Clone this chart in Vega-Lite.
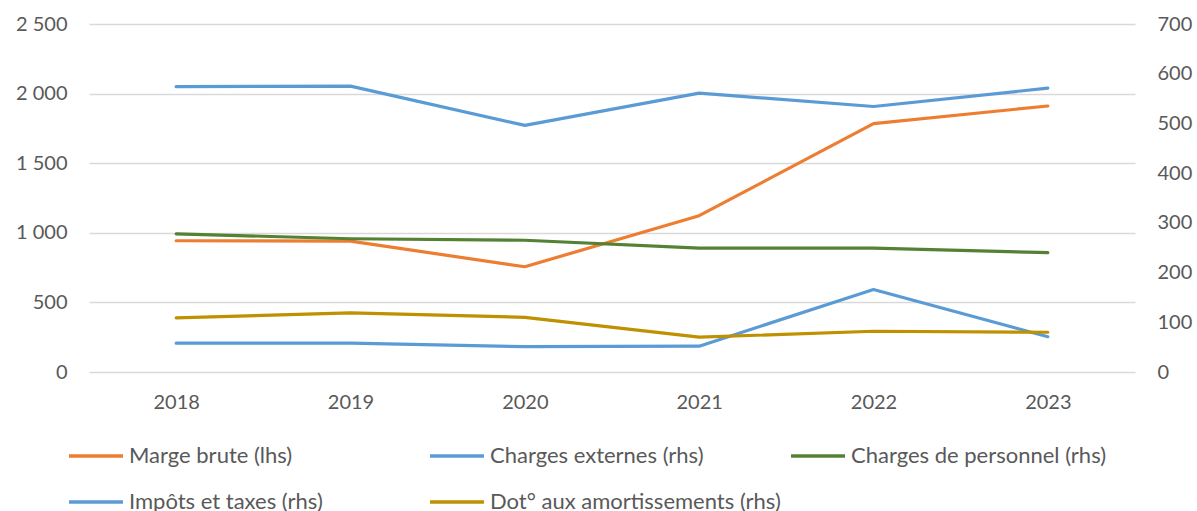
{
  "$schema": "https://vega.github.io/schema/vega-lite/v6.json",
  "autosize": {"type": "none"},
  "padding": {"left": 89, "top": 24, "right": 62, "bottom": 139},
  "width": 1046,
  "height": 348,
  "background": "white",
  "config": {
    "view": {"stroke": null},
    "font": "Lato",
    "axis": {"labelFont": "Lato", "labelFontSize": 20, "labelColor": "#595959", "domain": false, "ticks": false, "title": null},
    "legend": {"labelFont": "Lato", "labelFontSize": 22, "labelColor": "#595959"}
  },
  "data": {
    "values": [
      {"year": "2018", "series": "Marge brute (lhs)", "side": "lhs", "value": 943},
      {"year": "2019", "series": "Marge brute (lhs)", "side": "lhs", "value": 940},
      {"year": "2020", "series": "Marge brute (lhs)", "side": "lhs", "value": 756},
      {"year": "2021", "series": "Marge brute (lhs)", "side": "lhs", "value": 1123},
      {"year": "2022", "series": "Marge brute (lhs)", "side": "lhs", "value": 1784},
      {"year": "2023", "series": "Marge brute (lhs)", "side": "lhs", "value": 1911},
      {"year": "2018", "series": "Charges externes (rhs)", "side": "rhs", "value": 574},
      {"year": "2019", "series": "Charges externes (rhs)", "side": "rhs", "value": 575},
      {"year": "2020", "series": "Charges externes (rhs)", "side": "rhs", "value": 496},
      {"year": "2021", "series": "Charges externes (rhs)", "side": "rhs", "value": 561},
      {"year": "2022", "series": "Charges externes (rhs)", "side": "rhs", "value": 534},
      {"year": "2023", "series": "Charges externes (rhs)", "side": "rhs", "value": 571},
      {"year": "2018", "series": "Charges de personnel (rhs)", "side": "rhs", "value": 278},
      {"year": "2019", "series": "Charges de personnel (rhs)", "side": "rhs", "value": 268},
      {"year": "2020", "series": "Charges de personnel (rhs)", "side": "rhs", "value": 265},
      {"year": "2021", "series": "Charges de personnel (rhs)", "side": "rhs", "value": 249},
      {"year": "2022", "series": "Charges de personnel (rhs)", "side": "rhs", "value": 249},
      {"year": "2023", "series": "Charges de personnel (rhs)", "side": "rhs", "value": 240},
      {"year": "2018", "series": "Impôts et taxes  (rhs)", "side": "rhs", "value": 58},
      {"year": "2019", "series": "Impôts et taxes  (rhs)", "side": "rhs", "value": 58},
      {"year": "2020", "series": "Impôts et taxes  (rhs)", "side": "rhs", "value": 51},
      {"year": "2021", "series": "Impôts et taxes  (rhs)", "side": "rhs", "value": 52},
      {"year": "2022", "series": "Impôts et taxes  (rhs)", "side": "rhs", "value": 166},
      {"year": "2023", "series": "Impôts et taxes  (rhs)", "side": "rhs", "value": 71},
      {"year": "2018", "series": "Dot° aux amortissements (rhs)", "side": "rhs", "value": 109},
      {"year": "2019", "series": "Dot° aux amortissements (rhs)", "side": "rhs", "value": 119},
      {"year": "2020", "series": "Dot° aux amortissements (rhs)", "side": "rhs", "value": 110},
      {"year": "2021", "series": "Dot° aux amortissements (rhs)", "side": "rhs", "value": 70},
      {"year": "2022", "series": "Dot° aux amortissements (rhs)", "side": "rhs", "value": 82},
      {"year": "2023", "series": "Dot° aux amortissements (rhs)", "side": "rhs", "value": 80}
    ]
  },
  "encoding": {
    "x": {"field": "year", "type": "ordinal", "scale": {"type": "point", "padding": 0.5}, "axis": {"labelAngle": 0, "labelPadding": 20, "grid": false}},
    "color": {
      "field": "series", "type": "nominal",
      "scale": {
        "domain": ["Marge brute (lhs)", "Charges externes (rhs)", "Charges de personnel (rhs)", "Impôts et taxes  (rhs)", "Dot° aux amortissements (rhs)"],
        "range": ["#ED7D31", "#5B9BD5", "#548235", "#5B9BD5", "#BF9000"]
      },
      "legend": {
        "title": null, "orient": "none", "direction": "horizontal", "legendX": -22, "legendY": 403, "columns": 3, "gridAlign": "all",
        "columnPadding": 3, "rowPadding": 6, "padding": 0, "symbolType": "stroke", "symbolSize": 2916,
        "symbolStrokeWidth": 3.5, "labelOffset": 4, "labelLimit": 400
      }
    }
  },
  "layer": [
    {
      "transform": [{"filter": "datum.side == 'lhs'"}],
      "mark": {"type": "line", "strokeWidth": 3.2, "strokeCap": "round", "strokeJoin": "round"},
      "encoding": {
        "y": {"field": "value", "type": "quantitative", "scale": {"domain": [0, 2500]},
          "axis": {"orient": "left", "values": [0, 500, 1000, 1500, 2000, 2500], "labelPadding": 22, "grid": true, "gridColor": "#D9D9D9", "gridWidth": 1.3,
            "labelExpr": "replace(format(datum.value, ','), ',', ' ')"}}
      }
    },
    {
      "transform": [{"filter": "datum.side == 'rhs'"}],
      "mark": {"type": "line", "strokeWidth": 3.2, "strokeCap": "round", "strokeJoin": "round"},
      "encoding": {
        "y": {"field": "value", "type": "quantitative", "scale": {"domain": [0, 700]},
          "axis": {"orient": "right", "values": [0, 100, 200, 300, 400, 500, 600, 700], "labelPadding": 22, "grid": false}}
      }
    }
  ],
  "resolve": {"scale": {"y": "independent"}}
}
